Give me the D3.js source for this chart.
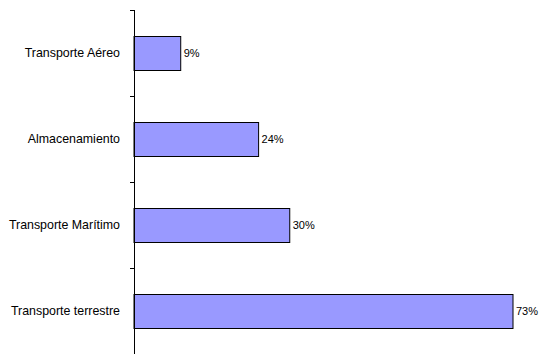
<!DOCTYPE html>
<html>
<head>
<meta charset="utf-8">
<script src="https://cdn.jsdelivr.net/npm/d3@7"></script>
<style>
  body { margin: 0; background: #fff; }
  svg { display: block; font-family: "Liberation Sans", Arial, sans-serif; }
</style>
</head>
<body>
<svg id="chart"></svg>
<script>
// data
const categories = ["Transporte Aéreo", "Almacenamiento", "Transporte Marítimo", "Transporte terrestre"];
const values = [9, 24, 30, 73];

const width = 539;
const height = 354;
const margin = { top: 10, right: 26, bottom: 0, left: 134 };

const svg = d3.select("#chart").attr("width", width).attr("height", height);

const data = categories.map((c, i) => ({ cat: c, val: values[i] }));

// scales
const xScale = d3.scaleLinear()
  .domain([0, d3.max(values)])
  .range([margin.left, width - margin.right]);

const yScale = d3.scaleBand()
  .domain(categories)
  .range([margin.top, height - margin.bottom])
  .paddingInner(0.6)
  .paddingOuter(0.3);

// bars
svg.selectAll(".bar")
  .data(data)
  .join("rect")
  .attr("class", "bar")
  .attr("x", xScale(0))
  .attr("y", (d) => Math.round(yScale(d.cat)) + 0.5)
  .attr("width", (d) => xScale(d.val) - xScale(0))
  .attr("height", Math.round(yScale.bandwidth()))
  .attr("fill", "#9999ff")
  .attr("stroke", "#000")
  .attr("stroke-width", 1);

// value labels
svg.selectAll(".val")
  .data(data)
  .join("text")
  .attr("class", "val")
  .attr("x", (d) => xScale(d.val) + 3)
  .attr("y", (d) => yScale(d.cat) + yScale.bandwidth() / 2)
  .attr("dy", "0.35em")
  .attr("font-size", 11)
  .attr("fill", "#000")
  .text((d) => d.val + "%");

// category axis
const step = yScale.step();
const boundaries = d3.range(categories.length + 1).map((i) => margin.top + i * step);

const axisG = svg.append("g");
axisG.append("line")
  .attr("x1", margin.left + 0.5).attr("x2", margin.left + 0.5)
  .attr("y1", margin.top).attr("y2", height)
  .attr("stroke", "#000");

axisG.selectAll(".tick")
  .data(boundaries)
  .join("line")
  .attr("class", "tick")
  .attr("x1", margin.left - 4).attr("x2", margin.left)
  .attr("y1", (d) => Math.round(d) + 0.5).attr("y2", (d) => Math.round(d) + 0.5)
  .attr("stroke", "#000");

axisG.selectAll(".cat")
  .data(categories)
  .join("text")
  .attr("class", "cat")
  .attr("x", margin.left - 14)
  .attr("y", (d) => yScale(d) + yScale.bandwidth() / 2)
  .attr("dy", "0.35em")
  .attr("text-anchor", "end")
  .attr("font-size", 12.4)
  .attr("fill", "#000")
  .text((d) => d);
</script>
</body>
</html>
